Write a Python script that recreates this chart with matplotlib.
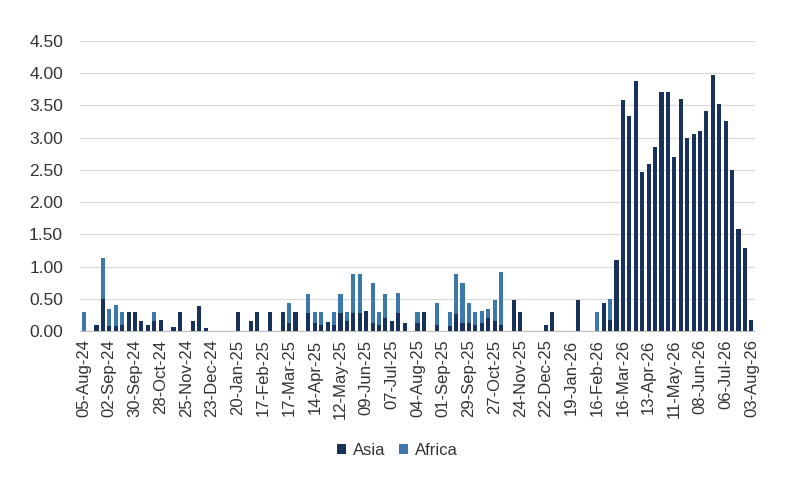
import numpy as np
import pandas as pd
import matplotlib
matplotlib.use("Agg")
import matplotlib.pyplot as plt

plt.rcParams['font.family'] = ['Liberation Sans', 'DejaVu Sans']

# weekly categories, 05-Aug-24 .. 03-Aug-26
weeks = pd.date_range("2024-08-05", "2026-08-03", freq="7D")
week_labels = [d.strftime("%d-%b-%y") for d in weeks]

asia = [0, 0, 0.10, 0.50, 0.08, 0.08, 0.10, 0.29, 0.29, 0.16,
        0.09, 0.15, 0.17, 0, 0.07, 0.29, 0, 0.16, 0.39, 0.05,
        0, 0, 0, 0, 0.29, 0, 0.16, 0.29, 0, 0.29,
        0, 0.29, 0.13, 0.29, 0, 0.28, 0.13, 0.10, 0.14, 0.10,
        0.28, 0.15, 0.28, 0.28, 0.31, 0.13, 0.10, 0.20, 0.15, 0.28,
        0.12, 0, 0.12, 0.29, 0, 0.10, 0, 0.08, 0.27, 0.13,
        0.13, 0.10, 0.13, 0.20, 0.16, 0.10, 0, 0.49, 0.29, 0,
        0, 0, 0.09, 0.29, 0, 0, 0, 0.49, 0, 0,
        0, 0.44, 0.18, 1.10, 3.59, 3.34, 3.87, 2.46, 2.59, 2.86,
        3.71, 3.70, 2.70, 3.60, 3.00, 3.06, 3.10, 3.41, 3.97, 3.52,
        3.25, 2.50, 1.59, 1.29, 0.18]

africa = [0.29, 0, 0, 0.63, 0.27, 0.32, 0.19, 0, 0, 0,
          0, 0.14, 0, 0, 0, 0, 0, 0, 0, 0,
          0, 0, 0, 0, 0, 0, 0, 0, 0, 0,
          0, 0, 0.30, 0, 0, 0.30, 0.17, 0.19, 0, 0.19,
          0.30, 0.14, 0.61, 0.61, 0, 0.61, 0.20, 0.37, 0, 0.31,
          0, 0, 0.18, 0, 0, 0.33, 0, 0.21, 0.61, 0.62,
          0.31, 0.19, 0.18, 0.14, 0.32, 0.81, 0, 0, 0, 0,
          0, 0, 0, 0, 0, 0, 0, 0, 0, 0,
          0.29, 0, 0.32, 0, 0, 0, 0, 0, 0, 0,
          0, 0, 0, 0, 0, 0, 0, 0, 0, 0,
          0, 0, 0, 0, 0]

asia_color = '#18325b'
africa_color = '#3c78ab'
text_color = '#333333'

x = np.arange(len(weeks))
fig = plt.figure(figsize=(7.9, 4.92), dpi=100)
ax = fig.add_axes([0.101, 0.327, 0.855, 0.59])

ax.bar(x, asia, width=0.64, color=asia_color, label='Asia', zorder=3)
ax.bar(x, africa, width=0.64, bottom=asia, color=africa_color, label='Africa', zorder=3)

ax.set_ylim(0, 4.5)
ax.set_yticks(np.arange(0, 4.51, 0.5))
ax.set_yticklabels([f"{v:.2f}" for v in np.arange(0, 4.51, 0.5)])
ax.set_xlim(-0.6, 104.6)
ax.set_xticks(x[::4])
ax.set_xticklabels(week_labels[::4], rotation=90)

ax.grid(axis='y', color='#d9d9d9', linewidth=0.9, zorder=0)
for s in ['top', 'right', 'left']:
    ax.spines[s].set_visible(False)
ax.spines['bottom'].set_color('#bfbfbf')
ax.tick_params(axis='both', length=0, colors=text_color)
ax.tick_params(axis='y', labelsize=12.5, pad=12)
ax.tick_params(axis='x', labelsize=12, pad=6)

ax.legend(loc='center', bbox_to_anchor=(0.47, -0.41), ncol=2, frameon=False,
          fontsize=12, handlelength=0.55, handleheight=0.55, columnspacing=0.8,
          handletextpad=0.4, labelcolor=text_color)

fig.savefig('out.png', dpi=100)
